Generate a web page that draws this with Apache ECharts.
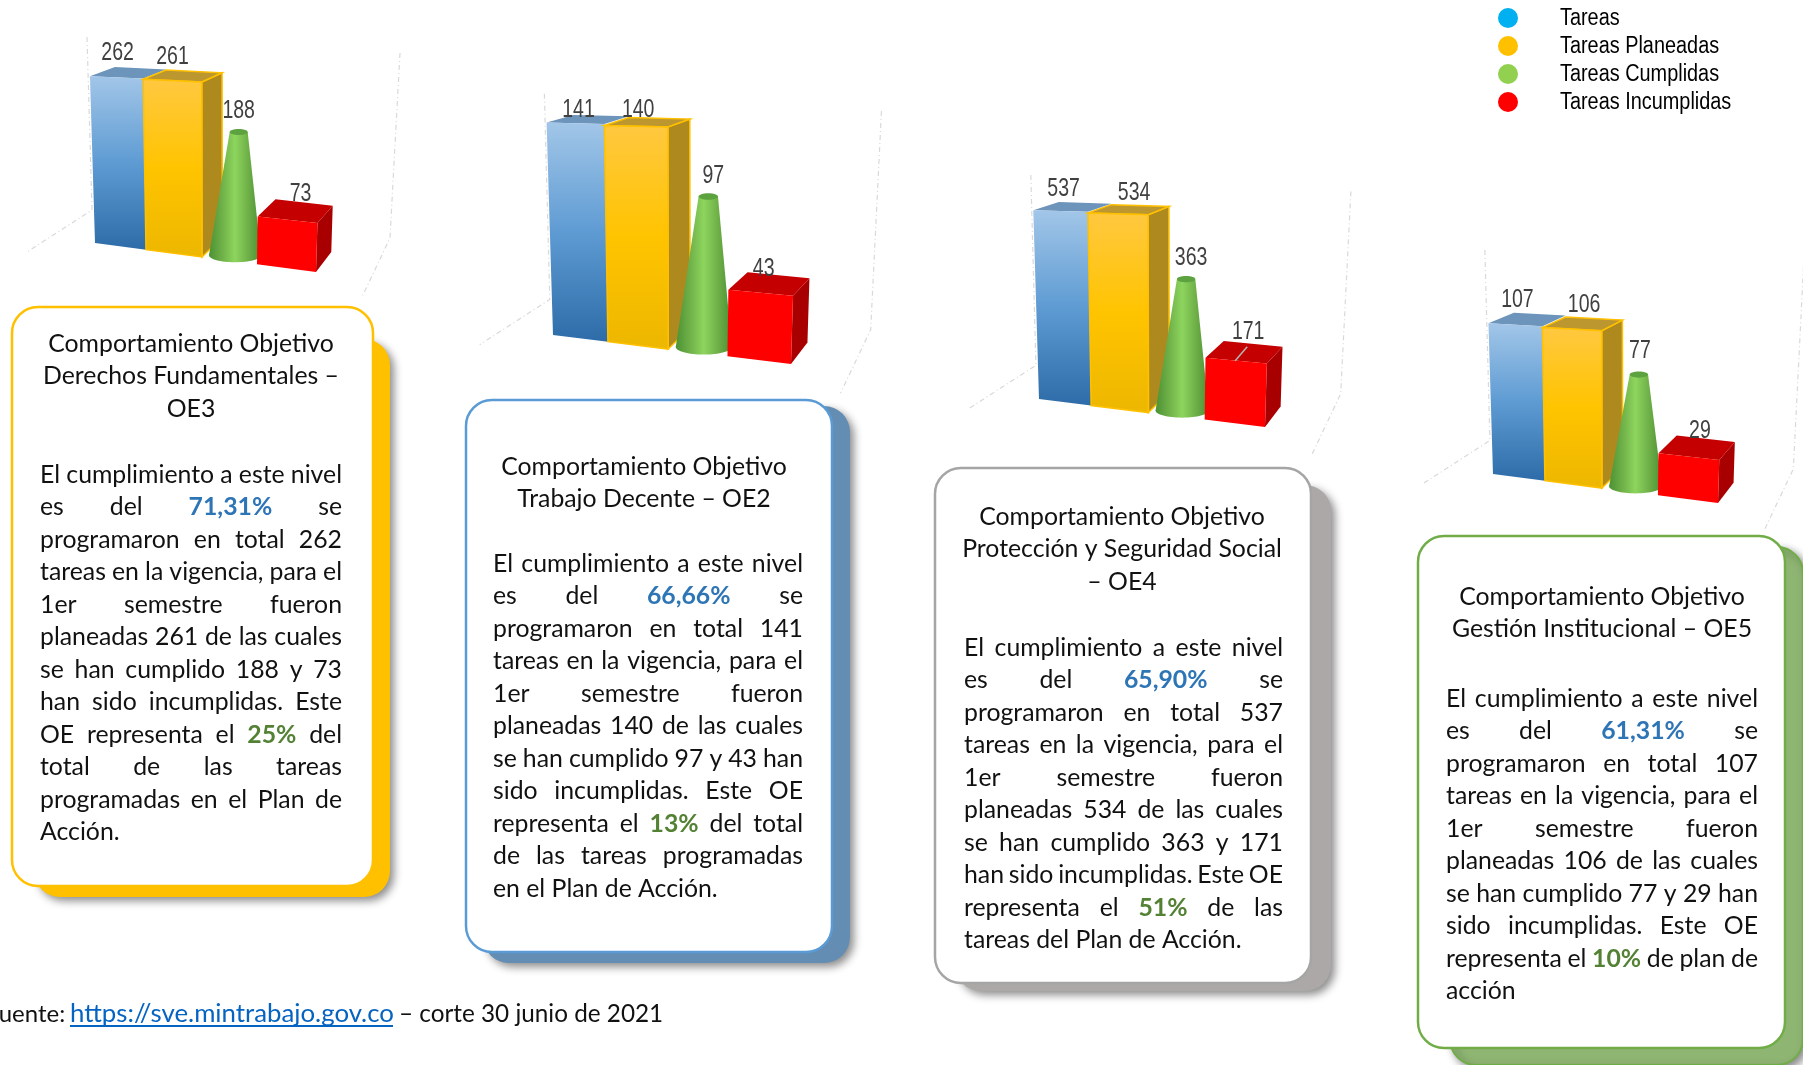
<!DOCTYPE html>
<html>
<head>
<meta charset="utf-8">
<title>Comportamiento Objetivos</title>
<script src="https://cdn.jsdelivr.net/npm/echarts@6/dist/echarts.min.js"></script>
<style>
  html, body { margin: 0; background: #fff; }
  #main { width: 1803px; height: 1065px; }
</style>
</head>
<body>
<div id="main"></div>
<script>
// datos
const measures = ['Tareas', 'Tareas Planeadas', 'Tareas Cumplidas', 'Tareas Incumplidas']
const oe3Values = [262, 261, 188, 73]
const oe2Values = [141, 140, 97, 43]
const oe4Values = [537, 534, 363, 171]
const oe5Values = [107, 106, 77, 29]
const legendColors = ['#00B0F0', '#FFC000', '#92D050', '#FF0000']

const oe3Title = ['Comportamiento Objetivo', 'Derechos Fundamentales –', 'OE3']
const oe3Text = [
  'El cumplimiento a este nivel', 'es del {b|71,31%} se', 'programaron en total 262',
  'tareas en la vigencia, para el', '1er semestre fueron', 'planeadas 261 de las cuales',
  'se han cumplido 188 y 73', 'han sido incumplidas. Este', 'OE representa el {g|25%} del',
  'total de las tareas', 'programadas en el Plan de', 'Acción.',
]
const oe2Title = ['Comportamiento Objetivo', 'Trabajo Decente – OE2']
const oe2Text = [
  'El cumplimiento a este nivel', 'es del {b|66,66%} se', 'programaron en total 141',
  'tareas en la vigencia, para el', '1er semestre fueron', 'planeadas 140 de las cuales',
  'se han cumplido 97 y 43 han', 'sido incumplidas. Este OE', 'representa el {g|13%} del total',
  'de las tareas programadas', 'en el Plan de Acción.',
]
const oe4Title = ['Comportamiento Objetivo', 'Protección y Seguridad Social', '– OE4']
const oe4Text = [
  'El cumplimiento a este nivel', 'es del {b|65,90%} se', 'programaron en total 537',
  'tareas en la vigencia, para el', '1er semestre fueron', 'planeadas 534 de las cuales',
  'se han cumplido 363 y 171', 'han sido incumplidas. Este OE', 'representa el {g|51%} de las',
  'tareas del Plan de Acción.',
]
const oe5Title = ['Comportamiento Objetivo', 'Gestión Institucional – OE5']
const oe5Text = [
  'El cumplimiento a este nivel', 'es del {b|61,31%} se', 'programaron en total 107',
  'tareas en la vigencia, para el', '1er semestre fueron', 'planeadas 106 de las cuales',
  'se han cumplido 77 y 29 han', 'sido incumplidas. Este OE', 'representa el {g|10%} de plan de',
  'acción',
]

const chartValues = [oe3Values, oe2Values, oe4Values, oe5Values]

// posicion de cada grafico (x0,y0 = esquina frontal izquierda de la base)
const chartBoxes = [
  { x0: 95, y0: 243, width: 221, height: 191, max: 300, slope: 0.131, wall: 206 },
  { x0: 553, y0: 335, width: 238, height: 241, max: 160, slope: 0.122, wall: 224 },
  { x0: 1039, y0: 399, width: 226, height: 211, max: 600, slope: 0.124, wall: 219 },
  { x0: 1493, y0: 474, width: 225, height: 169, max: 120, slope: 0.129, wall: 220 },
]
// ajuste de las etiquetas respecto a la cara superior de cada figura
const labelNudges = [
  [[1, -24], [0, -24], [0, -21], [13, -26]],
  [[3, -13], [2, -16], [5, -20], [3, -24]],
  [[3, -22], [16, -21], [5, -21], [12, -29]],
  [[2, -25], [12, -24], [1, -23], [11, -26]],
]

const panels = [
  { title: oe3Title, text: oe3Text, front: [12, 307, 373, 886], back: [34, 339, 390, 897], border: '#FFC000', fill: '#FFC000', titleX: 191, titleY: 344, bodyY: 475, left: 40, right: 342 },
  { title: oe2Title, text: oe2Text, front: [466, 400, 832, 952], back: [483, 406, 850, 963], border: '#5B9BD5', fill: '#648DB4', titleX: 644, titleY: 467, bodyY: 564, left: 493, right: 803 },
  { title: oe4Title, text: oe4Text, front: [935, 468, 1311, 983], back: [955, 485, 1331, 991], border: '#A5A5A5', fill: '#ADA8A8', titleX: 1122, titleY: 517, bodyY: 648, left: 964, right: 1283 },
  { title: oe5Title, text: oe5Text, front: [1418, 536, 1785, 1048], back: [1450, 547, 1803, 1065], border: '#70AD47', fill: '#8FB573', titleX: 1602, titleY: 597, bodyY: 699, left: 1446, right: 1758 },
]

const bodyFont = 'Lato'
const bodySize = 24.8
const lineGap = 32.5
const labelFont = '"Liberation Sans", sans-serif'
const measureCtx = document.createElement('canvas').getContext('2d')

function vGrad(stops) {
  return new echarts.graphic.LinearGradient(0, 0, 0, 1, stops.map((c, i) => ({ offset: i / (stops.length - 1), color: c })))
}
function hGrad(stops) {
  return new echarts.graphic.LinearGradient(0, 0, 1, 0, stops.map((c, i) => ({ offset: i / (stops.length - 1), color: c })))
}

function makeRender(c) {
  const box = chartBoxes[c]
  return function (params, api) {
    const m = api.value(0)
    const v = api.value(1)
    const band = api.size([1, 0])[0]
    const origin = api.coord([0, 0])
    const xL = origin[0] - band / 2
    const y0 = origin[1]
    const s = band * 4 / 221
    // los cubos rojos quedan un poco mas bajos por la perspectiva
    const h = api.size([0, v])[1] / s * (m === 3 ? 0.95 : 1)
    const pt = (u, hh) => {
      const g = hh * (1 + u * 0.0005)
      return [xL + s * (u + g * (u - 112) * 0.00027), y0 + s * (u * box.slope - g)]
    }
    const bk = (u, hh) => {
      const p = pt(u, hh)
      return [p[0] + s * (25 - u * 0.044), p[1] - s * (20 - 0.065 * hh)]
    }
    const poly = (points, fill, stroke, w) => ({
      type: 'polygon',
      shape: { points },
      style: { fill, stroke: stroke || null, lineWidth: w || 0 },
    })
    const children = []
    const nudge = labelNudges[c][m]
    let labelX, labelY

    if (m === 0) {
      // paredes punteadas del fondo
      const wall = [
        [[-8, -box.wall], [-3, -33], [-68, 9]],
        [[305, 16 - box.wall], [295, -5], [267, 54]],
      ]
      wall.forEach((line) => {
        children.push({
          type: 'polyline',
          shape: { points: line.map((p) => [xL + s * p[0], y0 + s * p[1]]) },
          style: { fill: null, stroke: '#D9D9D9', lineWidth: 1.2, lineDash: [5, 3, 1, 3] },
        })
      })
    }

    if (m === 2) {
      const cu = 140
      const base = pt(cu, 0)
      const by = base[1] - 6 * s
      const g = h * 1.03
      const topX = base[0] + g * s * 0.03
      const topY = by - g * s
      const rb = 26 * s
      const rt = 9 * s
      const fill = hGrad(['#4C9234', '#6FB048', '#8DD55E', '#6FB048', '#4A8F33'])
      children.push({ type: 'ellipse', shape: { cx: base[0], cy: by, rx: rb, ry: 7 * s }, style: { fill } })
      children.push(poly([[base[0] - rb, by], [topX - rt, topY], [topX + rt, topY], [base[0] + rb, by]], fill))
      children.push({ type: 'ellipse', shape: { cx: topX, cy: topY, rx: rt, ry: 3 * s }, style: { fill: '#5CA23F' } })
      labelX = topX + nudge[0]
      labelY = topY + nudge[1]
    } else {
      const spans = [[0, 51], [51, 107], null, [162, 221]]
      const a = spans[m][0]
      const b = spans[m][1]
      const fl = pt(a, 0), fr = pt(b, 0), tl = pt(a, h), tr = pt(b, h)
      if (m === 0) {
        children.push(poly([tl, bk(a, h), bk(b, h), tr], '#6D94BA'))
        children.push(poly([tl, tr, fr, fl], vGrad(['#A2C6E8', '#5E9BD3', '#2D6CA8'])))
      } else if (m === 1) {
        children.push(poly([tr, bk(b, h), bk(b, 0), fr], '#AE8A1E', '#FFC000', 1.5))
        children.push(poly([tl, bk(a, h), bk(b, h), tr], '#BC962F', '#FFC000', 1.5))
        children.push(poly([tl, tr, fr, fl], vGrad(['#FFC840', '#FFC400', '#EDB700']), '#FFC000', 1.5))
      } else {
        children.push(poly([tr, bk(b, h), bk(b, 0), fr], '#A80000'))
        children.push(poly([tl, bk(a, h), bk(b, h), tr], '#C40000'))
        children.push(poly([tl, tr, fr, fl], '#FF0000'))
      }
      labelX = (tl[0] + tr[0]) / 2 + nudge[0]
      labelY = (tl[1] + tr[1]) / 2 + nudge[1]
      if (c === 2 && m === 3) {
        const mx = (tl[0] + tr[0]) / 2
        const my = (tl[1] + tr[1]) / 2
        children.push({
          type: 'line',
          shape: { x1: mx - 1, y1: my, x2: mx + 11, y2: my - 14 },
          style: { stroke: '#B5B5B5', lineWidth: 1.5 },
        })
      }
    }

    children.push({
      type: 'text',
      x: labelX,
      y: labelY,
      scaleX: 0.78,
      style: {
        text: String(v),
        font: '25px ' + labelFont,
        fill: '#404040',
        textAlign: 'center',
        textVerticalAlign: 'middle',
      },
    })
    return { type: 'group', children }
  }
}

function wordFont(bold) {
  return (bold ? 'bold ' : '') + bodySize + 'px ' + bodyFont
}

function textEl(text, x, y, font, fill, align) {
  return {
    type: 'text',
    x,
    y,
    style: { text, font, fill, textAlign: align || 'left', textVerticalAlign: 'middle' },
  }
}

// linea justificada: cada palabra se ubica segun el ancho medido
function justifiedLine(line, left, right, y, justify) {
  const words = line.split(' ').map((w) => {
    const match = w.match(/^\{([bg])\|(.*)\}$/)
    if (match) return { text: match[2], bold: true, color: match[1] === 'b' ? '#2E75B6' : '#548235' }
    return { text: w, bold: false, color: '#111' }
  })
  words.forEach((w) => {
    measureCtx.font = wordFont(w.bold)
    w.width = measureCtx.measureText(w.text).width
  })
  const total = words.reduce((acc, w) => acc + w.width, 0)
  measureCtx.font = wordFont(false)
  const space = measureCtx.measureText(' ').width
  const gap = justify && words.length > 1 ? (right - left - total) / (words.length - 1) : space
  let x = left
  return words.map((w) => {
    const el = textEl(w.text, x, y, wordFont(w.bold), w.color)
    x += w.width + gap
    return el
  })
}

function panelGraphics(p) {
  const rounded = (r, style, z) => ({
    type: 'rect',
    z,
    shape: { x: r[0], y: r[1], width: r[2] - r[0], height: r[3] - r[1], r: 26 },
    style,
  })
  const els = [
    rounded(p.back, {
      fill: p.fill,
      stroke: p.border === '#70AD47' ? p.border : null,
      lineWidth: 2,
      shadowBlur: 8,
      shadowColor: 'rgba(0,0,0,0.45)',
      shadowOffsetX: 4,
      shadowOffsetY: 4,
    }, 1),
    rounded(p.front, { fill: '#fff', stroke: p.border, lineWidth: 2.5 }, 2),
  ]
  const texts = []
  p.title.forEach((line, i) => {
    texts.push(textEl(line, p.titleX, p.titleY + i * lineGap, wordFont(false), '#111', 'center'))
  })
  p.text.forEach((line, i) => {
    const last = i === p.text.length - 1
    texts.push(...justifiedLine(line, p.left, p.right, p.bodyY + i * lineGap, !last))
  })
  texts.forEach((t) => { t.z = 3 })
  return els.concat(texts)
}

function footerGraphics() {
  const y = 1014
  return [
    textEl('Fuente:', -14, y, '24px ' + bodyFont, '#111'),
    textEl('https://sve.mintrabajo.gov.co', 70, y, '25.8px ' + bodyFont, '#0563C1'),
    { type: 'line', shape: { x1: 70, y1: y + 12, x2: 393, y2: y + 12 }, style: { stroke: '#0563C1', lineWidth: 2 } },
    textEl('– corte 30 junio de 2021', 399, y, '24.3px ' + bodyFont, '#111'),
  ]
}

// textos de la leyenda: angostos como en el original
function legendGraphics() {
  return measures.map((name, i) => {
    const el = textEl(name, 1560, 19 + i * 27.7, '23.5px ' + labelFont, '#000')
    el.scaleX = 0.846
    return el
  })
}

const grids = chartBoxes.map((b) => ({
  left: b.x0,
  top: b.y0 - b.height,
  width: b.width,
  height: b.height,
  containLabel: false,
}))
const xAxes = chartBoxes.map((b, i) => ({ type: 'category', gridIndex: i, data: measures, show: false }))
const yAxes = chartBoxes.map((b, i) => ({ type: 'value', gridIndex: i, min: 0, max: b.max, show: false }))

const series = []
chartValues.forEach((values, c) => {
  measures.forEach((name, m) => {
    series.push({
      type: 'custom',
      name,
      xAxisIndex: c,
      yAxisIndex: c,
      clip: false,
      silent: true,
      itemStyle: { color: legendColors[m] },
      encode: { x: 0, y: 1 },
      data: [[m, values[m]]],
      renderItem: makeRender(c),
    })
  })
})

const chart = echarts.init(document.getElementById('main'))
chart.setOption({
  animation: false,
  backgroundColor: '#fff',
  grid: grids,
  xAxis: xAxes,
  yAxis: yAxes,
  legend: {
    orient: 'vertical',
    left: 1493,
    top: 3,
    icon: 'circle',
    itemWidth: 20,
    itemHeight: 20,
    itemGap: 8,
    selectedMode: false,
    data: measures,
    formatter: () => '',
  },
  graphic: panels.flatMap(panelGraphics).concat(footerGraphics(), legendGraphics()),
  series,
})
</script>
</body>
</html>
